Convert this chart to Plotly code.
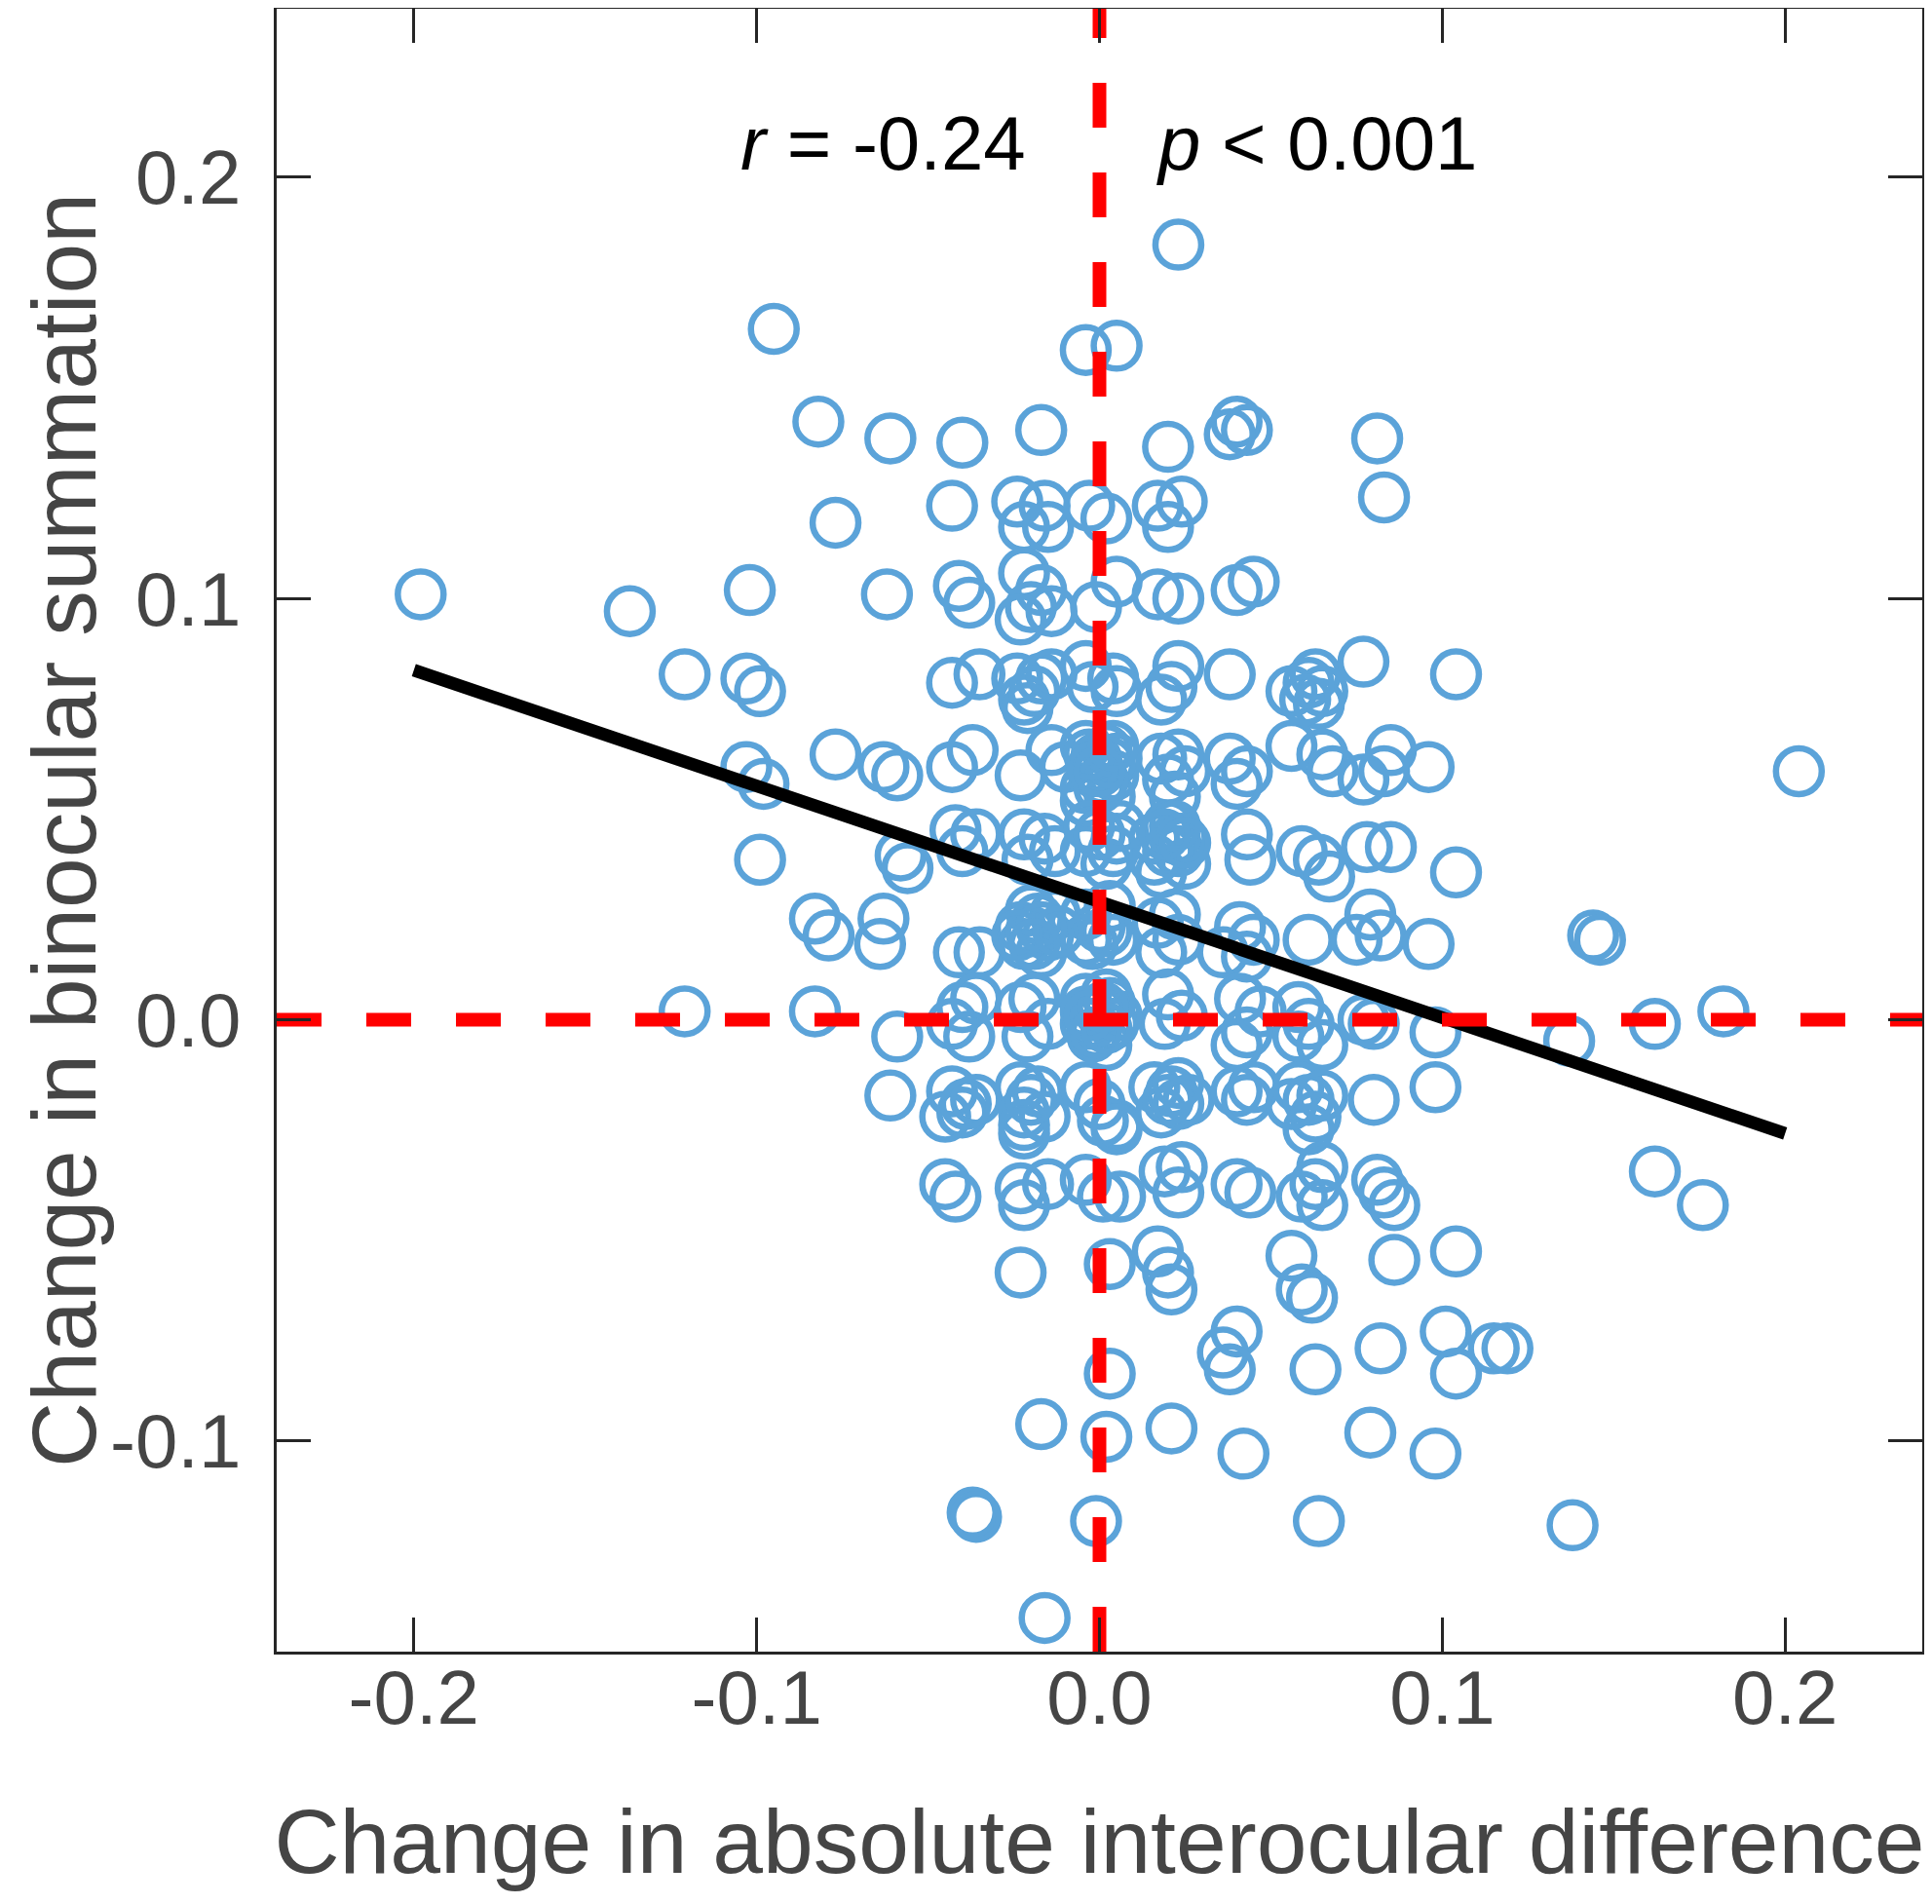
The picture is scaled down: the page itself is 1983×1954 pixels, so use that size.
import plotly.graph_objects as go

# Change in absolute interocular difference (x) and change in binocular summation (y)
x_vals = [
    0.023, -0.095, -0.004, 0.005, -0.082, -0.061, -0.040, -0.017, 0.020, 0.040, 0.043, 0.038,
    0.081, 0.083, -0.077, -0.043, -0.024, -0.016, -0.022, -0.015, -0.003, 0.002, 0.017, 0.024, 0.020,
    -0.198, -0.137, -0.102, -0.062, -0.041, -0.038, -0.022, -0.017, -0.020, -0.014, -0.023,
    -0.001, 0.005, 0.017, 0.023, 0.040, 0.045, -0.121, -0.103, -0.099, -0.043, -0.035,
    -0.024, -0.017, -0.022, -0.021, -0.014, -0.004, 0.004, -0.002, 0.005, 0.018, 0.023, 0.021,
    0.038, 0.056, 0.063, 0.065, 0.064, 0.061, 0.077, 0.104, 0.204,
    -0.103, -0.098, -0.077, -0.063, -0.059, -0.043, -0.037, -0.023, -0.014, -0.010,
    -0.004, 0.002, 0.005, -0.002, 0.004, 0.000, -0.004, 0.018, 0.023, 0.020, 0.025, 0.022,
    0.038, 0.043, 0.040, 0.056, 0.065, 0.068, 0.077, 0.085, 0.083, 0.096,
    -0.099, -0.058, -0.056, -0.042, -0.036, -0.040, -0.022, -0.016, -0.013, -0.021,
    -0.004, 0.002, 0.005, 0.016, 0.020, 0.023, 0.025, 0.018, 0.022, 0.043, 0.044,
    0.059, 0.064, 0.067, 0.078, 0.085, 0.104,
    -0.083, -0.079, -0.063, -0.064, -0.041, -0.035, -0.023, -0.018, -0.015, -0.022, -0.013, -0.017,
    -0.004, 0.002, 0.004, -0.002, 0.003, 0.017, 0.022, 0.023, 0.018, 0.036, 0.041, 0.045, 0.043,
    0.061, 0.075, 0.079, 0.082, 0.096, 0.144, 0.146,
    -0.121, -0.083, -0.059, -0.043, -0.040, -0.036, -0.038, -0.023, -0.019, -0.015, -0.021,
    -0.004, 0.000, 0.004, -0.002, 0.002, -0.004, 0.020, 0.019, 0.024, 0.041, 0.043, 0.040, 0.047,
    0.058, 0.061, 0.065, 0.058, 0.077, 0.080, 0.098, 0.137, 0.162, 0.182,
    -0.061, -0.043, -0.040, -0.045, -0.036, -0.023, -0.018, -0.022, -0.016, -0.022,
    -0.004, 0.000, 0.005, 0.001, 0.016, 0.021, 0.023, 0.018, 0.026, 0.040, 0.043, 0.045,
    0.058, 0.061, 0.065, 0.063, 0.056, 0.080, 0.098,
    -0.045, -0.042, -0.023, -0.022, -0.015, -0.004, 0.001, 0.006, 0.019, 0.024, 0.023,
    0.040, 0.044, 0.065, 0.063, 0.059, 0.065, 0.081, 0.083, 0.086, 0.162, 0.176,
    -0.023, 0.003, 0.017, 0.020, 0.021, 0.056, 0.059, 0.062, 0.086, 0.104,
    0.040, 0.036, 0.038, 0.063, 0.082, 0.101, 0.104, 0.115, 0.119, 0.003,
    -0.017, 0.002, 0.021, 0.042, 0.079, 0.098, -0.037, -0.036, -0.001, 0.064, 0.138, -0.016,
    -0.022, 0.005, 0.061,
    -0.001, 0.003, -0.004, -0.002, 0.002, -0.004, 0.005, 0.020, 0.024, 0.016, -0.020, 0.000,
    -0.004, -0.020, -0.039, -0.019, 0.060,
    -0.002, 0.003, 0.001, -0.003, 0.004, 0.000,
    -0.020, -0.017, -0.024, -0.012, -0.019,
    0.000, 0.004, -0.003, 0.006,
    0.001, -0.001, 0.003, -0.003, 0.002,
    0.022, 0.019, 0.025, 0.020, 0.023,
]
y_vals = [
    0.184, 0.164, 0.159, 0.160, 0.142, 0.138, 0.137, 0.140, 0.136, 0.142, 0.140, 0.139,
    0.138, 0.124, 0.118, 0.122, 0.123, 0.122, 0.117, 0.117, 0.122, 0.119, 0.122, 0.123, 0.117,
    0.101, 0.097, 0.102, 0.101, 0.103, 0.099, 0.106, 0.102, 0.098, 0.097, 0.095,
    0.098, 0.104, 0.101, 0.100, 0.102, 0.104, 0.082, 0.081, 0.078, 0.080, 0.082,
    0.081, 0.081, 0.076, 0.074, 0.082, 0.084, 0.081, 0.079, 0.078, 0.076, 0.084, 0.079,
    0.082, 0.078, 0.082, 0.078, 0.075, 0.080, 0.085, 0.082, 0.059,
    0.060, 0.056, 0.063, 0.060, 0.058, 0.060, 0.064, 0.058, 0.064, 0.060,
    0.065, 0.064, 0.062, 0.059, 0.058, 0.055, 0.055, 0.062, 0.063, 0.057, 0.059, 0.053,
    0.062, 0.059, 0.056, 0.065, 0.063, 0.059, 0.057, 0.064, 0.059, 0.060,
    0.038, 0.039, 0.036, 0.045, 0.044, 0.040, 0.044, 0.043, 0.040, 0.038,
    0.040, 0.037, 0.043, 0.043, 0.046, 0.040, 0.037, 0.035, 0.043, 0.044, 0.038,
    0.040, 0.038, 0.034, 0.041, 0.041, 0.035,
    0.024, 0.020, 0.024, 0.018, 0.016, 0.016, 0.022, 0.024, 0.020, 0.018, 0.025, 0.016,
    0.025, 0.021, 0.019, 0.018, 0.027, 0.023, 0.025, 0.019, 0.016, 0.016, 0.022, 0.019, 0.015,
    0.019, 0.019, 0.025, 0.020, 0.018, 0.020, 0.019,
    0.002, 0.002, -0.004, -0.001, 0.003, 0.005, -0.004, 0.003, 0.005, -0.001, -0.004,
    0.005, 0.002, -0.001, -0.004, 0.006, -0.001, 0.006, -0.001, 0.001, 0.005, -0.003, -0.006, 0.002,
    0.003, -0.001, -0.006, -0.004, 0.000, -0.001, -0.003, -0.005, -0.001, 0.002,
    -0.018, -0.017, -0.022, -0.023, -0.019, -0.016, -0.017, -0.022, -0.023, -0.025,
    -0.016, -0.020, -0.025, -0.024, -0.016, -0.017, -0.020, -0.022, -0.019, -0.017, -0.019, -0.016,
    -0.016, -0.019, -0.018, -0.023, -0.020, -0.019, -0.016,
    -0.039, -0.042, -0.040, -0.044, -0.039, -0.038, -0.042, -0.042, -0.036, -0.035, -0.041,
    -0.039, -0.041, -0.035, -0.039, -0.042, -0.044, -0.038, -0.041, -0.044, -0.036, -0.044,
    -0.060, -0.058, -0.055, -0.060, -0.064, -0.056, -0.064, -0.066, -0.057, -0.055,
    -0.074, -0.079, -0.083, -0.083, -0.078, -0.074, -0.084, -0.078, -0.078, -0.084,
    -0.096, -0.099, -0.097, -0.103, -0.098, -0.103, -0.117, -0.118, -0.119, -0.119, -0.120, -0.142,
    -0.027, -0.026, -0.026,
    0.062, 0.053, 0.052, -0.001, -0.006, 0.002, 0.001, 0.040, 0.043, 0.038, 0.021, 0.022,
    0.019, -0.019, -0.020, 0.078, 0.076,
    0.060, 0.061, 0.057, 0.063, 0.065, 0.059,
    0.026, 0.022, 0.020, 0.021, 0.018,
    0.044, 0.040, 0.046, 0.046,
    0.003, -0.003, 0.004, 0.001, -0.002,
    0.046, 0.044, 0.042, -0.019, -0.015,
]

# Regression line end points
fit_x = [-0.2, 0.2]
fit_y = [0.083, -0.027]

x_range = [-0.24, 0.24]
y_range = [-0.15, 0.24]
x_ticks = [-0.2, -0.1, 0.0, 0.1, 0.2]
x_tick_labels = ["-0.2", "-0.1", "0.0", "0.1", "0.2"]
y_ticks = [-0.1, 0.0, 0.1, 0.2]
y_tick_labels = ["-0.1", "0.0", "0.1", "0.2"]

FONT = "Liberation Sans, Arial, Helvetica, sans-serif"
GRAY = "#454545"
BLUE = "#5BA3D9"

fig = go.Figure()
fig.add_trace(go.Scatter(
    x=x_vals, y=y_vals, mode="markers",
    marker=dict(symbol="circle-open", size=47, color=BLUE, line=dict(width=6.5, color=BLUE)),
    showlegend=False, hoverinfo="skip",
))
fig.add_trace(go.Scatter(
    x=fit_x, y=fit_y, mode="lines",
    line=dict(color="black", width=13), showlegend=False, hoverinfo="skip",
))
fig.add_trace(go.Scatter(
    x=[0, 0], y=y_range, mode="lines",
    line=dict(color="#FF0000", width=14, dash="46px,46px"), showlegend=False, hoverinfo="skip",
))
fig.add_trace(go.Scatter(
    x=x_range, y=[0, 0], mode="lines",
    line=dict(color="#FF0000", width=14, dash="46px,46px"), showlegend=False, hoverinfo="skip",
))

axis_common = dict(
    showgrid=False, zeroline=False, showline=True, linecolor="#262626", linewidth=3,
    mirror="ticks", ticks="inside", ticklen=35, tickwidth=3, tickcolor="#262626",
    tickfont=dict(family=FONT, size=78, color=GRAY),
)
fig.update_xaxes(
    range=x_range, tickvals=x_ticks, ticktext=x_tick_labels, ticklabelstandoff=-23,
    title=dict(text="Change in absolute interocular difference",
               font=dict(family=FONT, size=93, color=GRAY), standoff=73),
    **axis_common,
)
fig.update_yaxes(
    range=y_range, tickvals=y_ticks, ticktext=y_tick_labels, ticklabelstandoff=18,
    **axis_common,
)

# y-axis title placed as a rotated annotation so it can sit close to the page edge
fig.add_annotation(x=-0.1291, y=0.5, xref="paper", yref="paper",
                   text="Change in binocular summation", textangle=-90,
                   showarrow=False, xanchor="center", yanchor="middle",
                   font=dict(family=FONT, size=93, color=GRAY))

fig.add_annotation(x=-0.021, y=0.208, xref="x", yref="y", text="<i>r</i> = -0.24",
                   showarrow=False, xanchor="right", yanchor="middle",
                   font=dict(family=FONT, size=78, color="black"))
fig.add_annotation(x=0.016, y=0.208, xref="x", yref="y", text="<i>p</i> &lt; 0.001",
                   showarrow=False, xanchor="left", yanchor="middle",
                   font=dict(family=FONT, size=78, color="black"))

fig.update_layout(
    width=1983, height=1954, autosize=False,
    margin=dict(l=276, r=18, t=1, b=267, autoexpand=False),
    plot_bgcolor="white", paper_bgcolor="white",
    font=dict(family=FONT),
)
fig.write_html("out.html")
